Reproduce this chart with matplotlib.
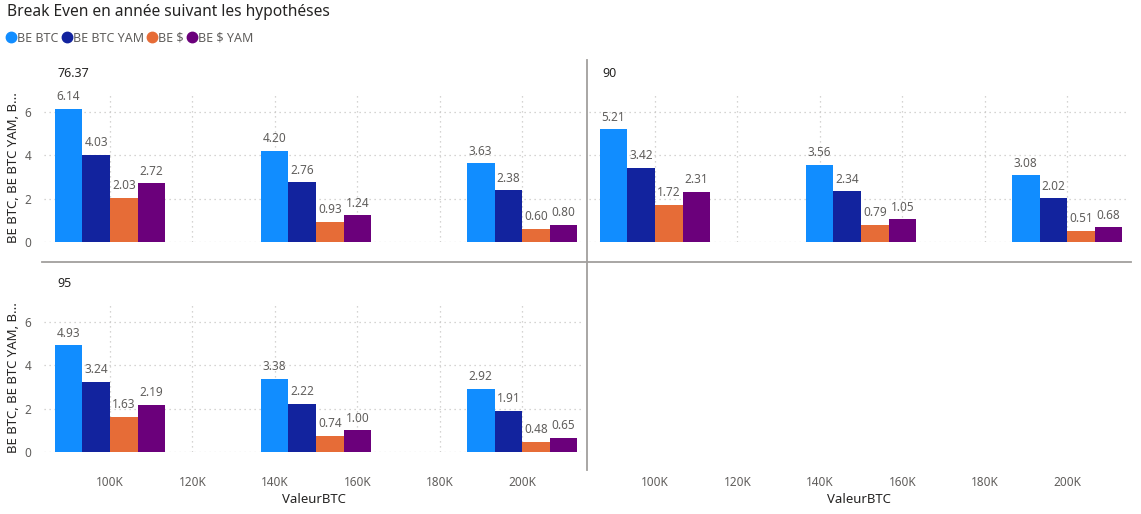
import matplotlib
matplotlib.use("Agg")
import matplotlib.pyplot as plt
from matplotlib.lines import Line2D
from matplotlib.ticker import FuncFormatter
import numpy as np

plt.rcParams['font.family'] = ['Noto Sans', 'DejaVu Sans']

# data
valeur_btc = [100000, 150000, 200000]
series_names = ['BE BTC', 'BE BTC YAM', r'BE \$', r'BE \$ YAM']
colors = ['#118DFF', '#12239E', '#E66C37', '#6B007B']

panel_titles = ['76.37', '90', '95']
be_btc = {'76.37': [6.14, 4.20, 3.63], '90': [5.21, 3.56, 3.08], '95': [4.93, 3.38, 2.92]}
be_btc_yam = {'76.37': [4.03, 2.76, 2.38], '90': [3.42, 2.34, 2.02], '95': [3.24, 2.22, 1.91]}
be_usd = {'76.37': [2.03, 0.93, 0.60], '90': [1.72, 0.79, 0.51], '95': [1.63, 0.74, 0.48]}
be_usd_yam = {'76.37': [2.72, 1.24, 0.80], '90': [2.31, 1.05, 0.68], '95': [2.19, 1.00, 0.65]}

W, H = 1141, 514
fig = plt.figure(figsize=(W / 100, H / 100), dpi=100)

def px_axes(x0, y0, x1, y1):
    # pixel box (top-left origin) -> figure axes
    return fig.add_axes([x0 / W, 1 - y1 / H, (x1 - x0) / W, (y1 - y0) / H])

GRAY = '#605E5C'
DARK = '#252423'
bar_w = 6700
xlim = (84000, 215000)
ylim = (0, 6.9)

ax_tl = px_axes(44, 92.5, 584, 242)
ax_tr = px_axes(589, 92.5, 1129, 242)
ax_bl = px_axes(44, 302.5, 584, 452)
ax_br = px_axes(589, 302.5, 1129, 452)

panels = [(ax_tl, '76.37'), (ax_tr, '90'), (ax_bl, '95')]

def kfmt(v, pos):
    return f'{int(round(v / 1000))}K'

for ax, key in panels:
    vals = [be_btc[key], be_btc_yam[key], be_usd[key], be_usd_yam[key]]
    x = np.array(valeur_btc)
    for i, (v, c) in enumerate(zip(vals, colors)):
        bars = ax.bar(x + (i - 1.5) * bar_w, v, width=bar_w, color=c, zorder=3)
        ax.bar_label(bars, fmt='%.2f', padding=4, fontsize=8.5, color=GRAY)
    ax.set_xlim(*xlim)
    ax.set_ylim(*ylim)
    ax.set_xticks([100000, 120000, 140000, 160000, 180000, 200000])
    ax.set_yticks([0, 2, 4, 6])
    ax.xaxis.set_major_formatter(FuncFormatter(kfmt))
    ax.grid(True, color='#C8C6C4', linestyle=(0, (1, 3)), linewidth=0.9, zorder=0)
    for s in ax.spines.values():
        s.set_visible(False)
    ax.tick_params(length=0, labelsize=8.5, labelcolor=GRAY)
    ax.tick_params(axis='y', pad=9)
    ax.tick_params(axis='x', pad=17)
    ax.text(0.025, 1.085, key, transform=ax.transAxes, fontsize=9, fontweight='bold',
            color=DARK, va='bottom')

ax_tl.tick_params(labelbottom=False)
ax_tr.tick_params(labelbottom=False, labelleft=False)
ax_tl.set_ylabel('BE BTC, BE BTC YAM, B...', fontsize=9.5, color=DARK, labelpad=3)
ax_bl.set_ylabel('BE BTC, BE BTC YAM, B...', fontsize=9.5, color=DARK, labelpad=3)
ax_bl.set_xlabel('ValeurBTC', fontsize=9.5, color=DARK, labelpad=3)

# empty lower-right cell only carries the x axis of the right column
ax_br.set_xlim(*xlim)
ax_br.set_xticks([100000, 120000, 140000, 160000, 180000, 200000])
ax_br.xaxis.set_major_formatter(FuncFormatter(kfmt))
ax_br.set_yticks([])
for s in ax_br.spines.values():
    s.set_visible(False)
ax_br.tick_params(length=0, labelsize=8.5, labelcolor=GRAY, pad=17)
ax_br.set_xlabel('ValeurBTC', fontsize=9.5, color=DARK, labelpad=3)

# separators between small multiples
fig.add_artist(Line2D([42 / W, 1131 / W], [1 - 262 / H, 1 - 262 / H], color='#A19F9D', linewidth=1.3))
fig.add_artist(Line2D([587 / W, 587 / W], [1 - 60 / H, 1 - 470 / H], color='#A19F9D', linewidth=1.3))

fig.text(7 / W, 1 - 12 / H, 'Break Even en année suivant les hypothéses', fontsize=11.2,
         color=DARK, va='center', ha='left')

handles = [Line2D([], [], marker='o', linestyle='', color=c, markersize=7.5) for c in colors]
fig.legend(handles, series_names, loc='center left', bbox_to_anchor=(4 / W, 1 - 38 / H),
           ncol=4, frameon=False, fontsize=9, handlelength=0.7, handletextpad=0.15,
           columnspacing=0.3, borderaxespad=0, borderpad=0.2, labelcolor=GRAY)

fig.savefig('out.png', dpi=100)
